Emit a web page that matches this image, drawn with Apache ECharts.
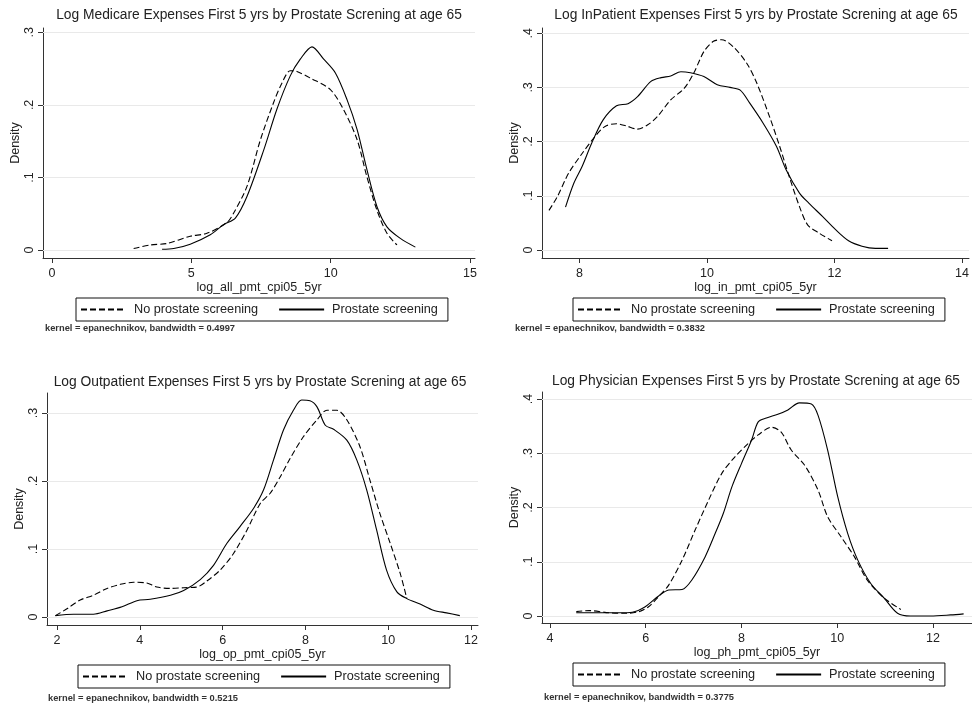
<!DOCTYPE html>
<html>
<head>
<meta charset="utf-8">
<script src="https://cdn.jsdelivr.net/npm/echarts@6/dist/echarts.min.js"></script>
<style>html,body{margin:0;padding:0;background:#fff}#c{width:972px;height:709px}</style>
</head>
<body>
<div id="c"></div>
<script>
// ---------- data ----------
const titles = [
  'Log Medicare Expenses First 5 yrs by Prostate Screning at age 65',
  'Log InPatient Expenses First 5 yrs by Prostate Screning at age 65',
  'Log Outpatient Expenses First 5 yrs by Prostate Screning at age 65',
  'Log Physician Expenses First 5 yrs by Prostate Screning at age 65'
];
const xNames = ['log_all_pmt_cpi05_5yr', 'log_in_pmt_cpi05_5yr', 'log_op_pmt_cpi05_5yr', 'log_ph_pmt_cpi05_5yr'];
const notes = [
  'kernel = epanechnikov, bandwidth = 0.4997',
  'kernel = epanechnikov, bandwidth = 0.3832',
  'kernel = epanechnikov, bandwidth = 0.5215',
  'kernel = epanechnikov, bandwidth = 0.3775'
];
const seriesNames = ['No prostate screening', 'Prostate screening'];
const xTicks = [[0, 5, 10, 15], [8, 10, 12, 14], [2, 4, 6, 8, 10, 12], [4, 6, 8, 10, 12]];
const yTicks = [[0, 0.1, 0.2, 0.3], [0, 0.1, 0.2, 0.3, 0.4], [0, 0.1, 0.2, 0.3], [0, 0.1, 0.2, 0.3, 0.4]];
const yTickLabels = [['0', '.1', '.2', '.3'], ['0', '.1', '.2', '.3', '.4'], ['0', '.1', '.2', '.3'], ['0', '.1', '.2', '.3', '.4']];

// Panel 1: Medicare
const p1NoX  = [2.93, 3.53, 4.13, 4.96, 5.56, 6.28, 6.52, 7.0, 7.48, 7.95, 8.25, 8.55, 8.79, 9.27, 9.99, 10.47, 10.95, 11.30, 11.66, 12.02, 12.38];
const p1NoY  = [0.002, 0.007, 0.009, 0.019, 0.023, 0.038, 0.051, 0.088, 0.152, 0.203, 0.230, 0.247, 0.246, 0.237, 0.221, 0.193, 0.152, 0.101, 0.055, 0.023, 0.007];
const p1YesX = [3.95, 4.37, 4.96, 5.68, 6.16, 6.58, 7.0, 7.60, 8.07, 8.55, 8.91, 9.33, 9.75, 10.17, 10.59, 10.95, 11.30, 11.66, 12.02, 12.50, 13.04];
const p1YesY = [0.001, 0.002, 0.008, 0.021, 0.035, 0.044, 0.074, 0.138, 0.194, 0.240, 0.263, 0.280, 0.263, 0.244, 0.207, 0.166, 0.111, 0.060, 0.032, 0.016, 0.004];

// Panel 2: InPatient
const p2NoX  = [7.52, 7.65, 7.83, 8.04, 8.24, 8.40, 8.58, 8.73, 8.91, 9.07, 9.22, 9.43, 9.64, 9.79, 9.95, 10.10, 10.23, 10.41, 10.62, 10.78, 10.98, 11.14, 11.29, 11.45, 11.58, 11.76, 11.96];
const p2NoY  = [0.073, 0.098, 0.142, 0.178, 0.209, 0.228, 0.233, 0.229, 0.223, 0.231, 0.246, 0.277, 0.298, 0.326, 0.366, 0.385, 0.388, 0.375, 0.345, 0.308, 0.246, 0.191, 0.135, 0.080, 0.046, 0.031, 0.017];
const p2YesX = [7.78, 7.91, 8.04, 8.19, 8.37, 8.58, 8.76, 8.91, 9.12, 9.28, 9.43, 9.59, 9.74, 9.95, 10.16, 10.36, 10.52, 10.67, 10.88, 11.09, 11.24, 11.45, 11.60, 11.81, 12.02, 12.22, 12.43, 12.64, 12.84];
const p2YesY = [0.079, 0.123, 0.154, 0.197, 0.240, 0.266, 0.270, 0.283, 0.311, 0.318, 0.321, 0.329, 0.327, 0.320, 0.305, 0.300, 0.295, 0.271, 0.234, 0.191, 0.148, 0.105, 0.086, 0.062, 0.037, 0.017, 0.007, 0.003, 0.003];

// Panel 3: Outpatient
const p3NoX  = [1.96, 2.24, 2.56, 2.88, 3.21, 3.53, 3.85, 4.17, 4.41, 4.74, 5.06, 5.38, 5.62, 5.94, 6.26, 6.59, 6.91, 7.15, 7.39, 7.63, 7.95, 8.28, 8.52, 8.76, 9.00, 9.32, 9.56, 9.80, 10.05, 10.29, 10.45];
const p3NoY  = [0.002, 0.012, 0.025, 0.032, 0.042, 0.048, 0.051, 0.050, 0.044, 0.042, 0.043, 0.044, 0.053, 0.069, 0.093, 0.128, 0.167, 0.182, 0.206, 0.233, 0.265, 0.290, 0.304, 0.304, 0.290, 0.250, 0.201, 0.152, 0.108, 0.064, 0.027];
const p3YesX = [1.96, 2.40, 2.88, 3.21, 3.57, 3.93, 4.25, 4.74, 5.06, 5.46, 5.78, 6.10, 6.42, 6.75, 6.99, 7.23, 7.47, 7.71, 7.91, 8.11, 8.28, 8.48, 8.68, 9.00, 9.24, 9.48, 9.72, 9.96, 10.21, 10.45, 10.77, 11.09, 11.41, 11.73];
const p3YesY = [0.002, 0.004, 0.004, 0.009, 0.015, 0.024, 0.026, 0.032, 0.039, 0.055, 0.076, 0.108, 0.133, 0.160, 0.187, 0.231, 0.275, 0.304, 0.319, 0.318, 0.309, 0.282, 0.276, 0.260, 0.231, 0.187, 0.128, 0.069, 0.037, 0.027, 0.019, 0.010, 0.006, 0.002];

// Panel 4: Physician
const p4NoX  = [4.55, 4.82, 5.23, 5.58, 5.86, 6.06, 6.27, 6.48, 6.76, 7.03, 7.31, 7.59, 7.86, 8.14, 8.35, 8.63, 8.83, 9.04, 9.32, 9.60, 9.80, 10.08, 10.36, 10.63, 10.98, 11.33];
const p4NoY  = [0.008, 0.010, 0.006, 0.005, 0.008, 0.017, 0.036, 0.057, 0.103, 0.158, 0.213, 0.263, 0.293, 0.318, 0.334, 0.348, 0.339, 0.306, 0.278, 0.232, 0.183, 0.146, 0.109, 0.066, 0.033, 0.012];
const p4YesX = [4.55, 4.96, 5.44, 5.72, 5.99, 6.27, 6.48, 6.76, 6.96, 7.24, 7.45, 7.62, 7.80, 8.00, 8.21, 8.35, 8.52, 8.76, 8.97, 9.21, 9.46, 9.60, 9.80, 10.01, 10.22, 10.43, 10.70, 10.98, 11.26, 11.53, 11.95, 12.37, 12.64];
const p4YesY = [0.006, 0.006, 0.006, 0.007, 0.017, 0.037, 0.048, 0.049, 0.066, 0.109, 0.152, 0.189, 0.238, 0.281, 0.324, 0.358, 0.365, 0.372, 0.380, 0.393, 0.391, 0.370, 0.306, 0.220, 0.152, 0.103, 0.060, 0.033, 0.005, 0.000, 0.000, 0.002, 0.004];

const panelData = [
  [[p1NoX, p1NoY], [p1YesX, p1YesY]],
  [[p2NoX, p2NoY], [p2YesX, p2YesY]],
  [[p3NoX, p3NoY], [p3YesX, p3YesY]],
  [[p4NoX, p4NoY], [p4YesX, p4YesY]]
];

// ---------- layout (pixels / axis extents) ----------
const grids = [
  {left: 43, top: 28, width: 432, height: 230},
  {left: 542, top: 28, width: 432, height: 230},
  {left: 47, top: 393, width: 431, height: 232},
  {left: 542, top: 392, width: 432, height: 231}
];
const xExt = [[-0.323, 15.18], [7.411, 14.109], [1.758, 12.169], [3.834, 12.815]];
const yExt = [[-0.011, 0.306], [-0.0148, 0.4096], [-0.0118, 0.3294], [-0.0129, 0.413]];
const titlePos = [[259, 8], [756, 8], [260, 375], [756, 374]];
const legendPos = [[76, 298], [573, 298], [78, 665], [573, 663]];
const notePos = [[45, 324], [515, 324], [48, 694], [544, 693]];

const FONT = '"Liberation Sans", Arial, sans-serif';
const TXT = '#222';
const AX = '#333';

const option = {
  animation: false,
  backgroundColor: '#fff',
  title: [],
  legend: [],
  grid: [],
  xAxis: [],
  yAxis: [],
  series: []
};

for (let i = 0; i < 4; i++) {
  option.grid.push(Object.assign({containLabel: false}, grids[i]));
  option.title.push({
    text: titles[i], left: titlePos[i][0], top: titlePos[i][1], textAlign: 'center', padding: 0,
    textStyle: {fontFamily: FONT, fontSize: 13.8, fontWeight: 'normal', color: TXT}
  });
  option.title.push({
    text: notes[i], left: notePos[i][0], top: notePos[i][1], padding: 0,
    textStyle: {fontFamily: FONT, fontSize: 9.3, fontWeight: 'bold', color: '#333'}
  });
  option.xAxis.push({
    gridIndex: i, type: 'value', min: xExt[i][0], max: xExt[i][1],
    axisLine: {onZero: false, lineStyle: {color: AX, width: 1}},
    axisTick: {customValues: xTicks[i], length: 5, lineStyle: {color: AX}},
    axisLabel: {customValues: xTicks[i], margin: 9, fontFamily: FONT, fontSize: 12.5, color: TXT},
    splitLine: {show: false},
    name: xNames[i], nameLocation: 'middle', nameGap: 19,
    nameTextStyle: {fontFamily: FONT, fontSize: 12.5, color: TXT}
  });
  const yl = yTickLabels[i], yt = yTicks[i];
  option.yAxis.push({
    gridIndex: i, type: 'value', min: yExt[i][0], max: yExt[i][1],
    axisLine: {show: true, onZero: false, lineStyle: {color: AX, width: 1}},
    axisTick: {show: true, customValues: yt, length: 5, lineStyle: {color: AX}},
    axisLabel: {customValues: yt, rotate: 90, margin: 7, fontFamily: FONT, fontSize: 12.5, color: TXT,
      formatter: v => { const k = yt.findIndex(t => Math.abs(t - v) < 1e-9); return k >= 0 ? yl[k] : ''; }},
    splitLine: {show: false},
    name: 'Density', nameLocation: 'middle', nameGap: 21,
    nameTextStyle: {fontFamily: FONT, fontSize: 12.5, color: TXT}
  });
  option.legend.push({
    data: seriesNames, left: legendPos[i][0], top: legendPos[i][1],
    orient: 'horizontal', padding: [5, 10, 5, 4], itemGap: 20, itemWidth: 45, itemHeight: 12,
    borderColor: '#111', borderWidth: 1, selectedMode: false,
    itemStyle: {color: 'rgba(0,0,0,0)', borderWidth: 0, opacity: 0},
    textStyle: {fontFamily: FONT, fontSize: 12.7, color: TXT, padding: [0, 0, 0, 3]}
  });
  for (let s = 0; s < 2; s++) {
    const xs = panelData[i][s][0], ys = panelData[i][s][1];
    const ser = {
      name: seriesNames[s], type: 'line', xAxisIndex: i, yAxisIndex: i,
      data: xs.map((x, k) => [x, ys[k]]),
      showSymbol: false, symbol: 'none', smooth: 0.3,
      lineStyle: {color: '#000', width: 1.1, type: s === 0 ? [6, 3] : 'solid'},
      itemStyle: {color: '#000'},
      z: 3
    };
    if (s === 0) {
      ser.markLine = {
        silent: true, symbol: ['none', 'none'], label: {show: false}, z: 1,
        lineStyle: {color: '#e9e9e9', width: 1, type: 'solid'},
        data: yTicks[i].map(v => ({yAxis: v}))
      };
    }
    option.series.push(ser);
  }
}

const chart = echarts.init(document.getElementById('c'), null, {renderer: 'canvas'});
chart.setOption(option);
</script>
</body>
</html>
